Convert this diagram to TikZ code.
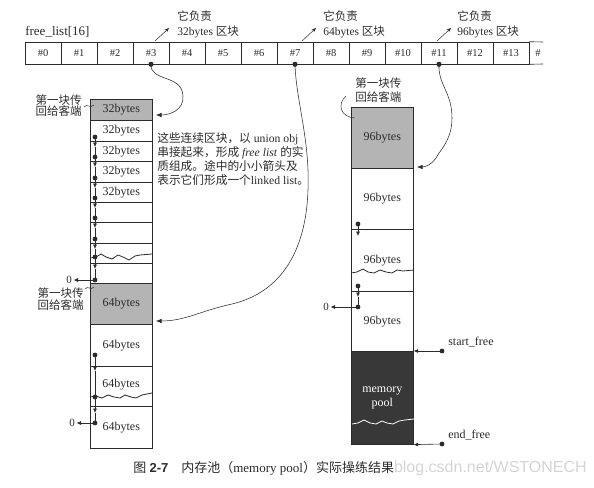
\documentclass[tikz,border=0pt]{standalone}
\usepackage{fontspec}
\setmainfont{Liberation Serif}
\newfontfamily\cjk{Noto Sans CJK SC}
\newfontfamily\wmfont{Liberation Sans}
\usetikzlibrary{arrows.meta}
\definecolor{ink}{HTML}{2B2B2B}
\definecolor{blockgray}{HTML}{B4B4B4}
\definecolor{pooldark}{HTML}{383838}
\begin{document}
\begin{tikzpicture}[x=1pt,y=-1pt,line width=0.6pt,color=ink,
  cell/.style={draw=ink,minimum width=36pt,minimum height=22pt,inner sep=0pt,font=\fontsize{10.5}{12}\selectfont},
  blk/.style={draw=ink,minimum width=62pt,inner sep=0pt,anchor=north west,font=\fontsize{12}{14}\selectfont},
  lab/.style={inner sep=0pt,font=\fontsize{11.5}{13}\selectfont},
  dotmark/.style={fill=ink},
  darr/.style={-{Latex[length=4.5pt,width=4pt]}},
  carr/.style={-{Latex[length=5.5pt,width=4.5pt]},line width=0.55pt},
  larr/.style={-{Stealth[length=4.5pt,width=3.5pt]},line width=0.5pt},
  tear/.style={line width=0.8pt,line join=round}]
\useasboundingbox (0,0) rectangle (594,487);

% ---- free list array ----
\node[anchor=west,inner sep=0pt,font=\fontsize{13}{15}\selectfont] (fl) at (25,32) {free\_list[16]};
\foreach \i in {0,...,13} {
  \node[cell] (c\i) at (43+36*\i,53) {\#\i};
}
\coordinate (endtop) at (543,42);
\coordinate (endbot) at (543,64);
\draw (c13.north east) -- (endtop);
\draw (c13.south east) -- (endbot);
\node[inner sep=0pt,font=\fontsize{10.5}{12}\selectfont] (c14) at (538,53) {\#};

% ---- labels above the array ----
\node[lab,anchor=west] (l3a) at (177,16) {\cjk 它负责};
\node[lab,anchor=west] (l3b) at (177,32) {32bytes {\cjk 区块}};
\node[lab,anchor=west] (l7a) at (323,16) {\cjk 它负责};
\node[lab,anchor=west] (l7b) at (323,32) {64bytes {\cjk 区块}};
\node[lab,anchor=west] (l11a) at (457,16) {\cjk 它负责};
\node[lab,anchor=west] (l11b) at (457,32) {96bytes {\cjk 区块}};
\coordinate (p3s) at (155,41); \coordinate (p3e) at (169,28);
\coordinate (p7s) at (302,41); \coordinate (p7e) at (316,28);
\coordinate (p11s) at (437,41); \coordinate (p11e) at (451,28);
\draw[larr] (p3s) -- (p3e);
\draw[larr] (p7s) -- (p7e);
\draw[larr] (p11s) -- (p11e);

% ---- 32 bytes column ----
\node[blk,fill=blockgray,minimum height=21pt] (g32) at (90,99) {32bytes};
\node[blk,minimum height=21pt] (a1) at (90,120) {32bytes};
\node[blk,minimum height=20pt] (a2) at (90,141) {32bytes};
\node[blk,minimum height=21pt] (a3) at (90,161) {32bytes};
\node[blk,minimum height=20pt] (a4) at (90,182) {32bytes};
\node[blk,minimum height=20pt] (a5) at (90,202) {};
\node[blk,minimum height=21pt] (a6) at (90,222) {};
\node[blk,minimum height=20pt] (a7) at (90,243) {};
\node[blk,minimum height=20pt] (a8) at (90,263) {};
\draw[tear] (90,258) -- ++(6,-1) -- ++(5,-3) -- ++(5,3) -- ++(6,2) -- ++(6,-4) -- ++(5,2) -- ++(6,3) -- ++(6,-4) -- ++(5,-1) -- ++(12,-1);

\node[lab,anchor=east] (t32a) at (82,100) {\cjk 第一块传};
\node[lab,anchor=east] (t32b) at (82,111) {\cjk 回给客端};
\coordinate (q32s) at (84,107); \coordinate (q32e) at (94,105);
\draw[line width=0.5pt] (q32s) .. controls (87,103) and (90,109) .. (q32e);

\foreach \y [count=\i] in {137,157,178,198,218,239,257,280} { \coordinate (L\i) at (95,\y); }
\foreach \y [count=\i] in {147,167,188,208,228,249,269} { \coordinate (LT\i) at (95,\y); }
\foreach \i [evaluate=\i as \j using int(\i+1)] in {1,...,7} {
  \draw[darr] (L\i) -- (LT\i);
  \draw (LT\i) -- (L\j);
}
\node[inner sep=1.5pt,font=\fontsize{11}{13}\selectfont] (z1) at (69,280) {0};
\draw[darr] (L8) -- (z1.east);
\foreach \i in {1,...,8} { \fill[dotmark] (L\i) circle (2.4); }

% ---- 64 bytes column ----
\node[blk,fill=blockgray,minimum height=41pt] (g64) at (90,283) {64bytes};
\node[blk,minimum height=42pt] (b1) at (90,324) {64bytes};
\node[blk,minimum height=40pt] (b2) at (90,366) {};
\node[blk,minimum height=42pt] (b3) at (90,406) {64bytes};
\node[inner sep=0pt,font=\fontsize{12}{14}\selectfont] (b2t) at (121,385) {64bytes};
\draw[tear] (90,397) -- ++(6,-1) -- ++(6,2) -- ++(6,-3) -- ++(6,2) -- ++(6,1) -- ++(5,-3) -- ++(6,2) -- ++(5,1) -- ++(6,-3) -- ++(10,-2);

\node[lab,anchor=east] (t64a) at (84,293) {\cjk 第一块传};
\node[lab,anchor=east] (t64b) at (84,305) {\cjk 回给客端};
\coordinate (q64s) at (85,289); \coordinate (q64e) at (94,287);
\draw[line width=0.5pt] (q64s) .. controls (88,285) and (91,291) .. (q64e);

\coordinate (M1) at (95,355); \coordinate (MT1) at (95,371);
\coordinate (M2) at (95,397); \coordinate (MT2) at (95,413);
\coordinate (M3) at (95,423);
\draw[darr] (M1) -- (MT1); \draw (MT1) -- (M2);
\draw[darr] (M2) -- (MT2); \draw (MT2) -- (M3);
\node[inner sep=1.5pt,font=\fontsize{11}{13}\selectfont] (z2) at (72,423) {0};
\draw[darr] (M3) -- (z2.east);
\foreach \p in {M1,M2,M3} { \fill[dotmark] (\p) circle (2.4); }

% ---- 96 bytes column ----
\node[blk,fill=blockgray,minimum height=61pt] (g96) at (351,107) {96bytes};
\node[blk,minimum height=61pt] (d1) at (351,168) {96bytes};
\node[blk,minimum height=62pt] (d2) at (351,229) {96bytes};
\node[blk,minimum height=60pt] (d3) at (351,291) {96bytes};
\node[blk,fill=pooldark,minimum height=93pt,align=center,text=white,font=\fontsize{12}{14}\selectfont] (pool) at (351,351) {memory\\pool};
\draw[tear] (351,273) -- ++(6,-1) -- ++(6,-3) -- ++(5,3) -- ++(6,1) -- ++(6,-3) -- ++(6,2) -- ++(6,1) -- ++(5,-3) -- ++(6,1) -- ++(11,-1);
\draw[tear,white] (352,424) -- ++(6,-1) -- ++(6,-3) -- ++(6,3) -- ++(6,1) -- ++(6,-3) -- ++(5,2) -- ++(6,1) -- ++(6,-3) -- ++(6,-1) -- ++(9,-1);

\node[lab,anchor=west] (t96a) at (355,83) {\cjk 第一块传};
\node[lab,anchor=west] (t96b) at (355,97) {\cjk 回给客端};
\coordinate (q96s) at (346,96); \coordinate (q96e) at (355,118);
\draw[line width=0.5pt] (q96s) .. controls (337,104) and (340,117) .. (q96e);

\coordinate (N1) at (358,224); \coordinate (NT1) at (358,236);
\coordinate (N2) at (358,286); \coordinate (NT2) at (358,297);
\coordinate (N3) at (358,307);
\draw[darr] (N1) -- (NT1);
\draw[darr] (N2) -- (NT2); \draw (NT2) -- (N3);
\node[inner sep=1.5pt,font=\fontsize{11}{13}\selectfont] (z3) at (326,307) {0};
\draw[darr] (N3) -- (z3.east);
\foreach \p in {N1,N2,N3} { \fill[dotmark] (\p) circle (2.4); }

% start_free / end_free
\coordinate (sf) at (442,351); \coordinate (ef) at (442,444);
\node[anchor=west,inner sep=0pt,font=\fontsize{12}{14}\selectfont] (sft) at (448,342) {start\_free};
\node[anchor=west,inner sep=0pt,font=\fontsize{12}{14}\selectfont] (eft) at (448,435) {end\_free};
\draw[darr] (sf) -- (pool.north east);
\draw[darr] (ef) -- (pool.south east);
\fill[dotmark] (sf) circle (2.4);
\fill[dotmark] (ef) circle (2.4);

% ---- note text ----
\node[anchor=north west,align=left,inner sep=0pt,font=\fontsize{11.7}{14.2}\selectfont] (note) at (157,132) {%
{\cjk 这些连续区块，以} union obj\\
{\cjk 串接起来，形成} \textit{free list} {\cjk 的实}\\
{\cjk 质组成。途中的小小箭头及}\\
{\cjk 表示它们形成一个}linked list{\cjk 。}};

% ---- curved pointers from the array ----
\coordinate (h32) at (156,115);
\coordinate (h64) at (156,321);
\coordinate (h96) at (417,167);
\draw[carr] (c3.south) .. controls (150,82) and (182,74) .. (183,96) .. controls (184,110) and (170,115) .. (h32);
\draw[carr] (c7.south) .. controls (296,100) and (310,140) .. (308,190) .. controls (306,250) and (282,292) .. (232,304) .. controls (200,311) and (185,321) .. (h64);
\draw[carr] (c11.south) .. controls (438,85) and (452,92) .. (452,118) .. controls (452,140) and (440,150) .. (436,158) .. controls (432,164) and (426,167) .. (h96);
\fill[dotmark] (c3.south) circle (2.6);
\fill[dotmark] (c7.south) circle (2.6);
\fill[dotmark] (c11.south) circle (2.6);

% ---- caption ----
\node[anchor=east,inner sep=0pt,text=black!17,font=\wmfont\fontsize{16}{18}\selectfont] (wm) at (587,468) {blog.csdn.net/WSTONECH};
\node[anchor=west,inner sep=0pt,font=\fontsize{13}{15}\selectfont] (cap) at (133,468) {{\cjk 图} {\wmfont\bfseries 2-7}\quad{\cjk 内存池（}memory pool{\cjk ）实际操练结果}};
\end{tikzpicture}
\end{document}
